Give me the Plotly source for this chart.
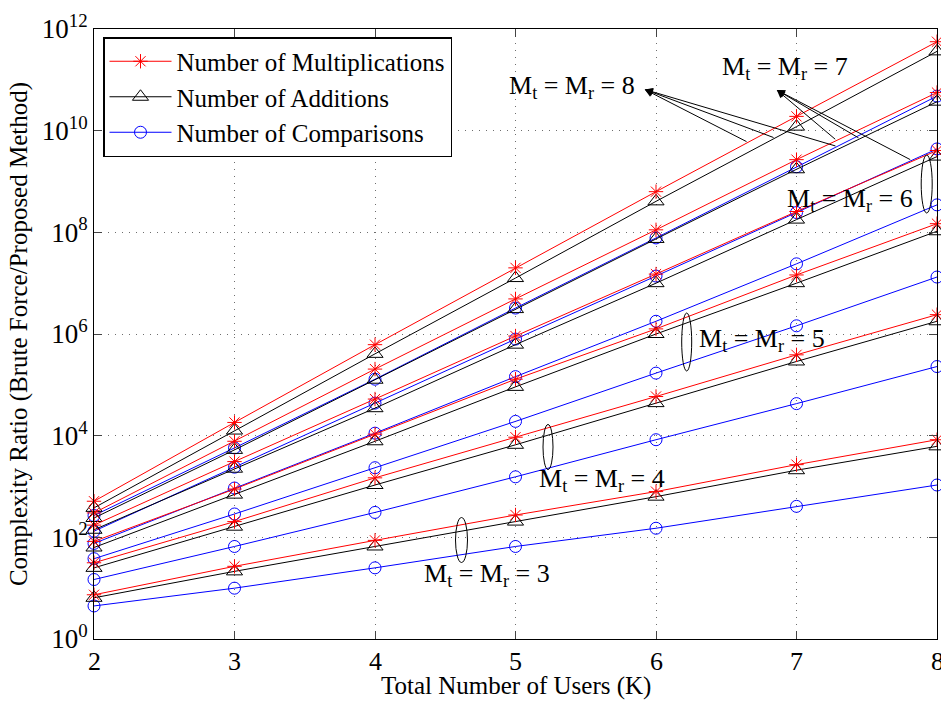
import numpy as np
import plotly.graph_objects as go

# Total number of users K
users = [2, 3, 4, 5, 6, 7, 8]

# Complexity ratio (brute force / proposed method) for Mt = Mr = M
mult_m8 = [513, 1.82e4, 6.17e5, 2.00e7, 6.31e8, 1.91e10, 5.62e11]
add_m8 = [380, 1.26e4, 4.07e5, 1.26e7, 4.07e8, 1.20e10, 3.63e11]
comp_m8 = [269, 5.75e3, 1.29e5, 3.24e6, 7.76e7, 1.95e9, 4.79e10]

mult_m7 = [302, 7.76e3, 2.04e5, 4.90e6, 1.12e8, 2.69e9, 5.62e10]
add_m7 = [240, 5.25e3, 1.26e5, 3.09e6, 7.41e7, 1.74e9, 3.72e10]
comp_m7 = [132, 2.40e3, 4.37e4, 7.94e5, 1.38e7, 2.45e8, 4.37e9]

mult_m6 = [174, 3.09e3, 5.25e4, 9.12e5, 1.51e7, 2.57e8, 4.07e9]
add_m6 = [141, 2.24e3, 3.47e4, 6.17e5, 1.00e7, 1.78e8, 3.09e9]
comp_m6 = [75.9, 933, 1.12e4, 1.45e5, 1.78e6, 2.40e7, 3.47e8]

mult_m5 = [83.2, 891, 1.07e4, 1.29e5, 1.26e6, 1.45e7, 1.48e8]
add_m5 = [63.1, 692, 7.76e3, 9.12e4, 1.00e6, 1.00e7, 1.05e8]
comp_m5 = [38.0, 288, 2.34e3, 1.91e4, 1.70e5, 1.45e6, 1.32e7]

mult_m4 = [31.6, 204, 1.48e3, 9.33e3, 5.89e4, 3.89e5, 2.40e6]
add_m4 = [25.1, 162, 1.07e3, 6.61e3, 4.37e4, 2.88e5, 1.78e6]
comp_m4 = [14.8, 66.1, 309, 1.55e3, 8.32e3, 4.27e4, 2.29e5]

mult_m3 = [7.41, 26.9, 87.1, 275, 794, 2.69e3, 8.32e3]
add_m3 = [6.46, 21.4, 66.1, 204, 631, 2.09e3, 6.17e3]
comp_m3 = [4.47, 10.0, 25.1, 66.1, 151, 407, 1.07e3]

antenna_sizes = [8, 7, 6, 5, 4, 3]
mult_series = [mult_m8, mult_m7, mult_m6, mult_m5, mult_m4, mult_m3]
add_series = [add_m8, add_m7, add_m6, add_m5, add_m4, add_m3]
comp_series = [comp_m8, comp_m7, comp_m6, comp_m5, comp_m4, comp_m3]

x_tick_text = ["2", "3", "4", "5", "6", "7", "8"]
y_tick_vals = [1, 1e2, 1e4, 1e6, 1e8, 1e10, 1e12]
y_tick_text = ["10<sup>0</sup>", "10<sup>2</sup>", "10<sup>4</sup>", "10<sup>6</sup>",
               "10<sup>8</sup>", "10<sup>10</sup>", "10<sup>12</sup>"]

FONT = "Liberation Serif"
W, H = 941, 702
ML, MR, MT, MB = 94, 4, 29, 63


def paper_x(px):
    return (px - ML) / (W - ML - MR)


def paper_y(py):
    return (H - MB - py) / (H - MT - MB)


fig = go.Figure()

styles = [
    ("Number of Comparisons", comp_series, "#0000ff", "circle-open", 12),
    ("Number of Additions", add_series, "#000000", "triangle-up-open", 14),
    ("Number of Multiplications", mult_series, "#ff0000", "asterisk-open", 12),
]
ranks = {"Number of Multiplications": 1, "Number of Additions": 2, "Number of Comparisons": 3}

for name, series_list, color, symbol, msize in styles:
    for i, vals in enumerate(series_list):
        fig.add_trace(go.Scatter(
            x=users, y=vals, mode="lines+markers", name=name,
            legendgroup=name, showlegend=(i == 0), legendrank=ranks[name],
            line=dict(color=color, width=1),
            marker=dict(symbol=symbol, size=msize, color=color,
                        line=dict(color=color, width=1)),
            cliponaxis=False,
        ))


def curve_log(series, k):
    return float(np.interp(k, users, np.log10(series)))


annotations = []
# arrows from curves to the Mt = Mr = 8 and 7 labels
arrow_sets = [
    ((5.92, 10.81), [(mult_m8, 6.655), (add_m8, 6.847), (comp_m8, 7.288)]),
    ((6.86, 10.80), [(mult_m7, 7.286), (add_m7, 7.452), (comp_m7, 7.82)]),
]
for (hx, hy), tails in arrow_sets:
    for series, k in tails:
        annotations.append(dict(
            x=hx, y=hy, xref="x", yref="y",
            ax=k, ay=curve_log(series, k), axref="x", ayref="y",
            text="", showarrow=True, arrowhead=2, arrowsize=1.6,
            arrowwidth=1, arrowcolor="black", standoff=0,
        ))

labels = [(8, 506.7, 87), (7, 720, 68.5), (6, 785, 200),
          (5, 696.7, 340), (4, 537, 480), (3, 421.7, 575)]
for m, lx, ly in labels:
    annotations.append(dict(
        x=paper_x(lx), y=paper_y(ly), xref="paper", yref="paper",
        xanchor="left", yanchor="middle", showarrow=False,
        text=f"M<sub>t</sub> = M<sub>r</sub> = {m}",
        font=dict(family=FONT, size=26, color="black"),
    ))

# x tick labels drawn as text so the last one at the right edge is kept
for k, lab in zip(users, x_tick_text):
    annotations.append(dict(
        x=k, y=0, xref="x", yref="paper", xanchor="center", yanchor="top",
        yshift=-6, showarrow=False, text=lab,
        font=dict(family=FONT, size=26, color="black"),
    ))

annotations.append(dict(
    x=0.5, y=paper_y(686), xref="paper", yref="paper",
    xanchor="center", yanchor="middle", showarrow=False,
    text="Total Number of Users (K)",
    font=dict(family=FONT, size=25, color="black"),
))

shapes = []
ellipses = [(926.7, 184, 11, 58), (686.7, 342, 10, 58),
            (548, 447, 10, 45), (461.5, 540, 12, 45)]
for cx, cy, w, h in ellipses:
    shapes.append(dict(
        type="circle", xref="paper", yref="paper",
        x0=paper_x(cx - w / 2), x1=paper_x(cx + w / 2),
        y0=paper_y(cy + h / 2), y1=paper_y(cy - h / 2),
        line=dict(color="black", width=1),
    ))

fig.update_layout(
    width=W, height=H,
    margin=dict(l=ML, r=MR, t=MT, b=MB),
    paper_bgcolor="white", plot_bgcolor="white",
    font=dict(family=FONT, size=26, color="black"),
    annotations=annotations, shapes=shapes,
    legend=dict(
        x=paper_x(103), y=paper_y(37), xanchor="left", yanchor="top",
        bgcolor="white", bordercolor="black", borderwidth=1.5,
        font=dict(family=FONT, size=25), tracegroupgap=0,
        itemwidth=62,
    ),
)

fig.update_xaxes(
    range=[2, 8], tickvals=users, showticklabels=False,
    ticks="inside", ticklen=8,
    showline=True, linecolor="black", linewidth=1, mirror="allticks",
    showgrid=True, gridcolor="#6e6e6e", griddash="1px,6px", gridwidth=1,
    zeroline=False,
)
fig.update_yaxes(
    type="log", range=[0, 12], tickvals=y_tick_vals, ticktext=y_tick_text,
    ticks="inside", ticklen=8,
    showline=True, linecolor="black", linewidth=1, mirror="allticks",
    showgrid=True, gridcolor="#6e6e6e", griddash="1px,6px", gridwidth=1,
    zeroline=False,
    title=dict(text="Complexity Ratio (Brute Force/Proposed Method)", standoff=6,
               font=dict(family=FONT, size=25)),
    tickfont=dict(family=FONT, size=27),
)

fig.write_html("out.html")
